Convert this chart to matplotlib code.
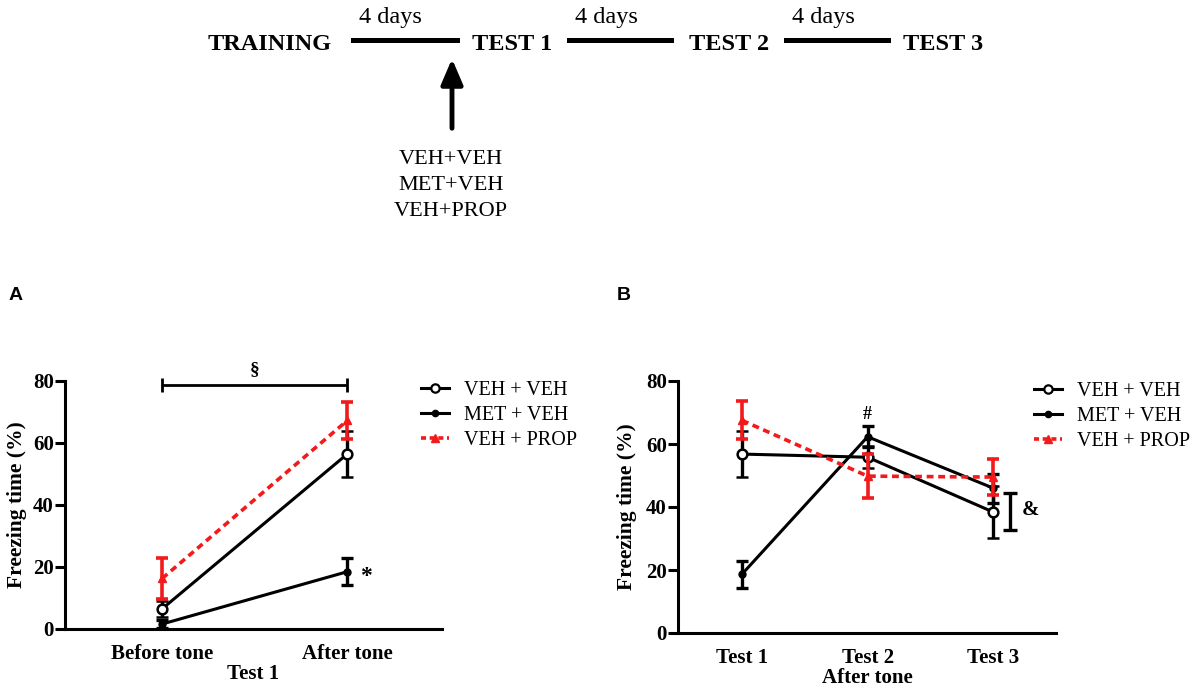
# Freezing time figure: protocol schematic + panels A and B
import numpy as np
import matplotlib.pyplot as plt
from matplotlib.lines import Line2D

plt.rcParams.update({
    "font.family": "Liberation Serif",
    "font.size": 12,
    "axes.linewidth": 2.2,
})

# ------------------------------------------------------------------
# Data
# ------------------------------------------------------------------
groups = ["VEH + VEH", "MET + VEH", "VEH + PROP"]

a_labels = ["Before tone", "After tone"]
a_veh_veh = [6.5, 56.5]
a_veh_veh_err = [2.5, 7.5]
a_met_veh = [1.6, 18.5]
a_met_veh_err = [1.2, 4.3]
a_veh_prop = [16.3, 67.3]
a_veh_prop_err = [6.7, 5.9]

b_labels = ["Test 1", "Test 2", "Test 3"]
b_veh_veh = [56.8, 55.8, 38.4]
b_veh_veh_err = [7.4, 3.5, 8.2]
b_met_veh = [18.7, 62.3, 46.0]
b_met_veh_err = [4.3, 3.4, 4.6]
b_veh_prop = [67.5, 49.8, 49.5]
b_veh_prop_err = [6.0, 7.0, 5.8]

amp_bracket = (38.6, 5.9)   # centre, half-height of the "&" bracket
sect_bracket_y = 78.7

timeline = ["TRAINING", "TEST 1", "TEST 2", "TEST 3"]
treatments = ["VEH+VEH", "MET+VEH", "VEH+PROP"]

RED = "#f21a1a"
W, H = 1200, 693


def px(x, y):
    # pixel position (from top-left) -> figure fraction
    return x / W, 1 - y / H


fig = plt.figure(figsize=(12, 6.93), dpi=100)

# ------------------------------------------------------------------
# 1. Protocol schematic
# ------------------------------------------------------------------
tl_x = [270, 512, 729, 943]
for name, x in zip(timeline, tl_x):
    fig.text(*px(x, 44), name, ha="center", va="center",
             fontsize=17.5, fontweight="bold")
for x0, x1 in [(353, 457), (569, 671), (786, 888)]:
    fig.add_artist(Line2D([x0 / W, x1 / W], [1 - 40 / H, 1 - 40 / H],
                          color="black", lw=3.6))
    fig.text(*px(x0 + 37, 17), "4 days", ha="center",
             va="center", fontsize=17.5)
fig.add_artist(plt.Annotation("", xy=px(452, 56), xytext=px(452, 131),
                              xycoords="figure fraction",
                              textcoords="figure fraction",
                              arrowprops=dict(arrowstyle="-|>,head_width=0.3,head_length=0.7",
                                              lw=3.5, color="black",
                                              mutation_scale=22)))
for i, t in enumerate(treatments):
    fig.text(*px(451, 160 + 25.5 * i), t, ha="center", va="center",
             fontsize=16)

fig.text(*px(16, 296), "A", ha="center", va="center", fontsize=14,
         fontweight="bold", family="Liberation Sans")
fig.text(*px(624, 296), "B", ha="center", va="center", fontsize=14,
         fontweight="bold", family="Liberation Sans")


# ------------------------------------------------------------------
# 2. Panels
# ------------------------------------------------------------------
def style_axis(ax, labels, xlabel, ylab_x):
    ax.set_ylim(0, 80)
    ax.set_yticks([0, 20, 40, 60, 80])
    ax.set_xticks(range(len(labels)))
    ax.set_xticklabels(labels)
    for sp in ["top", "right"]:
        ax.spines[sp].set_visible(False)
    ax.tick_params(axis="y", width=2.2, length=7, labelsize=15, pad=1)
    ax.tick_params(axis="x", length=0, labelsize=15, pad=11)
    for lab in ax.get_xticklabels() + ax.get_yticklabels():
        lab.set_fontweight("bold")
    ax.set_ylabel("Freezing time (%)", fontsize=15.5, fontweight="bold")
    ax.yaxis.set_label_coords(ylab_x, 0.5)
    ax.set_xlabel(xlabel, fontsize=15, fontweight="bold", labelpad=0)


def draw_series(ax, x, veh, veh_e, met, met_e, prop, prop_e):
    ax.errorbar(x, veh, yerr=veh_e, color="black", lw=2.2, marker="o",
                ms=7, mfc="white", mew=1.8, capsize=4, capthick=2.4,
                elinewidth=2.4, zorder=3)
    ax.errorbar(x, met, yerr=met_e, color="black", lw=2.2, marker="o",
                ms=5, capsize=4, capthick=2.4, elinewidth=2.4, zorder=3)
    ax.errorbar(x, prop, yerr=prop_e, color=RED, lw=2.6, ls=(0, (1.9, 1.3)),
                marker="^", ms=5.5, capsize=4, capthick=2.6, elinewidth=2.6,
                zorder=4)


def add_legend(anchor):
    handles = [
        Line2D([], [], color="black", lw=2.2, marker="o", ms=6,
               mfc="white", mew=1.6),
        Line2D([], [], color="black", lw=2.2, marker="o", ms=4.5),
        Line2D([], [], color=RED, lw=2.6, ls=(0, (1.4, 1.0)), marker="^",
               ms=5.5),
    ]
    fig.legend(handles, groups, loc="upper left",
               bbox_to_anchor=px(*anchor), frameon=False, fontsize=14.5,
               handlelength=1.4, handletextpad=0.75, labelspacing=0.3,
               borderaxespad=0, borderpad=0)


# Panel A
axA = fig.add_axes([65 / W, 1 - 629 / H, (442 - 65) / W, 248 / H])
xa = np.arange(len(a_labels))
draw_series(axA, xa, a_veh_veh, a_veh_veh_err, a_met_veh, a_met_veh_err,
            a_veh_prop, a_veh_prop_err)
style_axis(axA, a_labels, "Test 1", -0.10)
axA.set_xlim(-0.524, 1.51)
axA.errorbar([xa.mean()], [sect_bracket_y], xerr=[(xa[-1] - xa[0]) / 2],
             color="black", lw=0, elinewidth=2, capsize=5, capthick=2,
             clip_on=False)
axA.text(xa.mean(), sect_bracket_y + 2.3, "§", ha="center", va="bottom",
         fontsize=14, fontweight="bold", clip_on=False)
axA.text(xa[-1] + 0.07, a_met_veh[-1] - 1.5, "*", ha="left", va="center",
         fontsize=17, fontweight="bold")
add_legend((421, 381))

# Panel B
axB = fig.add_axes([678 / W, 1 - 633 / H, (1056 - 678) / W, 252 / H])
xb = np.arange(len(b_labels))
draw_series(axB, xb, b_veh_veh, b_veh_veh_err, b_met_veh, b_met_veh_err,
            b_veh_prop, b_veh_prop_err)
style_axis(axB, b_labels, "After tone", -0.108)
axB.set_xlim(-0.51, 2.50)
axB.text(xb[1], b_met_veh[1] + b_met_veh_err[1] + 1.0, "#", ha="center",
         va="bottom", fontsize=13, fontweight="bold")
axB.errorbar([xb[-1] + 0.135], [amp_bracket[0]], yerr=[amp_bracket[1]],
             color="black", lw=0, elinewidth=2.4, capsize=5, capthick=2.4)
axB.text(xb[-1] + 0.23, amp_bracket[0] + 0.5, "&", ha="left", va="center",
         fontsize=15, fontweight="bold")
add_legend((1034, 382))

fig.savefig("out.png", dpi=100)
